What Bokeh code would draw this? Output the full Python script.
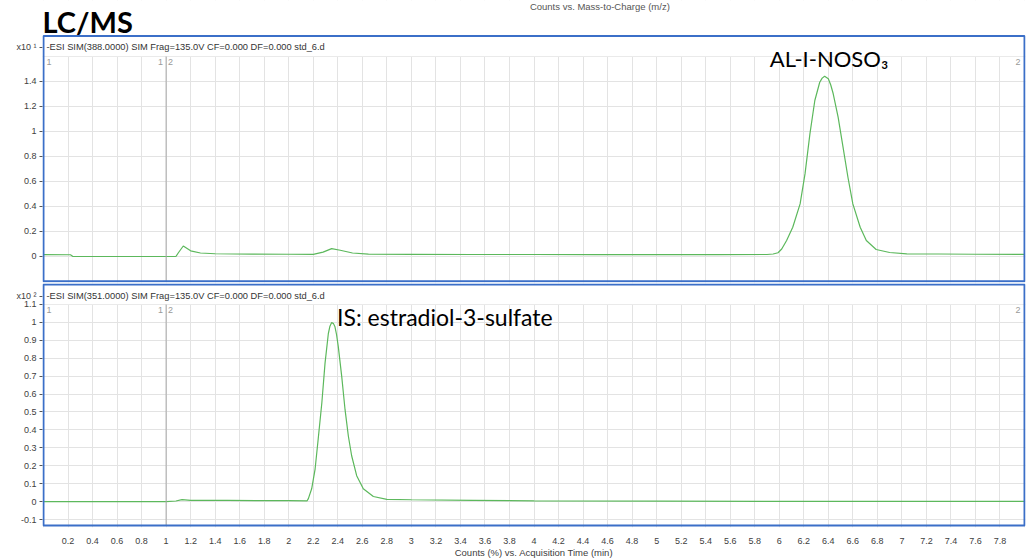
from bokeh.plotting import figure
from bokeh.layouts import column
from bokeh.models import Label, BoxAnnotation, FixedTicker, Range1d, CustomJSTickFormatter
from bokeh.embed import file_html
from bokeh.resources import INLINE

# ---------------- data ----------------
# top trace: SIM 388, counts x10^1
top_time = [0.0, 0.22, 0.24, 1.08, 1.10, 1.14, 1.20, 1.28, 1.40, 1.70, 2.00, 2.20, 2.28,
            2.35, 2.42, 2.52, 2.65, 3.00, 3.50, 4.00, 4.50, 5.00, 5.50, 5.90, 5.95, 5.99, 6.02,
            6.06, 6.11, 6.17, 6.21, 6.25, 6.29, 6.33, 6.35, 6.37, 6.40, 6.42, 6.44, 6.48, 6.52,
            6.56, 6.60, 6.66, 6.71, 6.79, 6.90, 7.04, 7.30, 7.60, 8.00]
top_counts = [0.015, 0.014, 0.0, 0.0, 0.03, 0.084, 0.045, 0.028, 0.022, 0.019, 0.018, 0.017, 0.035,
              0.063, 0.05, 0.028, 0.019, 0.017, 0.016, 0.016, 0.015, 0.015, 0.015, 0.016, 0.02, 0.03,
              0.06, 0.128, 0.234, 0.42, 0.66, 0.98, 1.246, 1.392, 1.425, 1.44, 1.42, 1.37, 1.30,
              1.113, 0.873, 0.633, 0.42, 0.234, 0.128, 0.056, 0.032, 0.021, 0.02, 0.018, 0.017]

# bottom trace: SIM 351, counts x10^2
bottom_time = [0.0, 1.0, 1.08, 1.13, 1.20, 1.50, 2.00, 2.15, 2.16, 2.187, 2.215, 2.24, 2.27,
               2.296, 2.323, 2.336, 2.35, 2.365, 2.377, 2.39, 2.404, 2.432, 2.459, 2.486, 2.513,
               2.554, 2.608, 2.69, 2.80, 3.00, 3.50, 4.00, 5.00, 6.00, 7.00, 8.00]
bottom_counts = [0.0, 0.0, 0.004, 0.012, 0.008, 0.007, 0.006, 0.005, 0.017, 0.072, 0.182, 0.348, 0.551,
                 0.772, 0.937, 0.978, 0.998, 0.992, 0.974, 0.93, 0.864, 0.698, 0.514, 0.366, 0.256,
                 0.145, 0.072, 0.029, 0.013, 0.011, 0.008, 0.005, 0.003, 0.002, 0.002, 0.002]

title_text = "LC/MS"
top_caption = "Counts vs. Mass-to-Charge (m/z)"
top_header = "-ESI SIM(388.0000) SIM Frag=135.0V CF=0.000 DF=0.000 std_6.d"
bottom_header = "-ESI SIM(351.0000) SIM Frag=135.0V CF=0.000 DF=0.000 std_6.d"
top_exponent = "x10 \u00b9"
bottom_exponent = "x10 \u00b2"
top_peak_label = "AL-I-NOSO\u2083"
bottom_peak_label = "IS: estradiol-3-sulfate"
x_axis_label = "Counts (%) vs. Acquisition Time (min)"

top_yticks = [0, 0.2, 0.4, 0.6, 0.8, 1.0, 1.2, 1.4]
top_ygrid = [-0.2, 0, 0.2, 0.4, 0.6, 0.8, 1.0, 1.2, 1.4, 1.6]
bottom_yticks = [-0.1, 0, 0.1, 0.2, 0.3, 0.4, 0.5, 0.6, 0.7, 0.8, 0.9, 1.0, 1.1]
x_ticks = [round(0.2 * i, 1) for i in range(1, 40)]
x_grid = [round(0.2 * i, 1) for i in range(0, 41)]
t_start, t_end = 0.0, 8.0
marker_time = 1.0
marker_labels = ["1", "1", "2", "2"]

SMALL = "Liberation Sans"
BIG = "Lato"
GREEN = "#5cb85c"
BLUE = "#3b6fc8"
GRID = "#e3e3e3"

fmt = CustomJSTickFormatter(code="return (Math.round(tick*10)/10).toString();")
PAD = 0.008  # one pixel of time so the blue box edge is not clipped


def make_panel(time, counts, y0, y1, box_bottom, box_top, grid_top, yticks, ygrid,
               header, exponent, exp_y, height, border_bottom):
    p = figure(width=1027, height=height, x_range=Range1d(t_start - PAD, t_end + PAD),
               y_range=Range1d(y0, y1), output_backend="svg", toolbar_location=None,
               min_border_left=42, min_border_right=2,
               min_border_top=0, min_border_bottom=border_bottom,
               background_fill_color="white", border_fill_color="white")
    p.outline_line_color = None
    p.xgrid.ticker = FixedTicker(ticks=x_grid)
    p.ygrid.ticker = FixedTicker(ticks=ygrid)
    p.xgrid.grid_line_color = GRID
    p.ygrid.grid_line_color = GRID

    ax = p.yaxis[0]
    ax.ticker = FixedTicker(ticks=yticks + [exp_y])
    ax.formatter = CustomJSTickFormatter(
        args=dict(h=exp_y, lab=exponent),
        code="if (Math.abs(tick - h) < 1e-6) { return lab; } "
             "return (Math.round(tick*10)/10).toString();")
    ax.axis_line_color = None
    ax.major_tick_out = 3
    ax.major_tick_in = 0
    ax.major_tick_line_color = "#555555"
    ax.minor_tick_line_color = None
    ax.major_label_standoff = 3
    ax.major_label_text_font = SMALL
    ax.major_label_text_font_size = "9px"
    ax.major_label_text_color = "#404040"

    p.line(time, counts, line_color=GREEN, line_width=1.2)
    p.segment(x0=[marker_time], y0=[box_bottom], x1=[marker_time], y1=[grid_top],
              line_color="#a8a8a8", line_width=1)

    # white header band above the grid, then the blue panel box
    p.add_layout(BoxAnnotation(bottom=grid_top, fill_color="white", fill_alpha=1.0,
                               line_color=None))
    p.add_layout(BoxAnnotation(left=t_start, right=t_end, bottom=box_bottom, top=box_top,
                               fill_color=None, fill_alpha=0.0, line_color=BLUE,
                               line_alpha=1.0, line_width=2))
    # header
    p.add_layout(Label(x=t_start, y=exp_y, x_offset=3, text=header, text_font=SMALL,
                       text_font_size="9.3px", text_color="#333333", text_baseline="middle"))
    # marker labels
    kw = dict(text_font=SMALL, text_font_size="9px", text_color="#9a9a9a", text_baseline="top")
    p.add_layout(Label(x=t_start, y=grid_top, x_offset=3, y_offset=-3, text=marker_labels[0], **kw))
    p.add_layout(Label(x=marker_time, y=grid_top, x_offset=-3, y_offset=-3, text=marker_labels[1],
                       text_align="right", **kw))
    p.add_layout(Label(x=marker_time, y=grid_top, x_offset=2, y_offset=-3, text=marker_labels[2], **kw))
    p.add_layout(Label(x=t_end, y=grid_top, x_offset=-4, y_offset=-3, text=marker_labels[3],
                       text_align="right", **kw))
    return p


# top panel: its frame also holds the "LC/MS" title strip above the blue box
p1 = make_panel(top_time, top_counts, -0.2077, 2.045, -0.198, 1.761, 1.6, top_yticks, top_ygrid,
                top_header, top_exponent, 1.67, 283, 1)
p1.xaxis.visible = False
p1.add_layout(Label(x=t_start, y=1.877, x_offset=-1, text=title_text, text_font=BIG,
                    text_font_style="bold", text_font_size="29px", text_color="black",
                    text_baseline="middle"))
p1.add_layout(Label(x=4.537, y=1.997, text=top_caption, text_font=SMALL, text_font_size="9.5px",
                    text_color="#555555", text_baseline="middle", text_align="center"))
p1.add_layout(Label(x=5.923, y=1.582, text=top_peak_label, text_font=BIG,
                    text_font_size="22px", text_color="black", text_baseline="alphabetic"))

p2 = make_panel(bottom_time, bottom_counts, -0.1436, 1.2155, -0.1326, 1.21, 1.1, bottom_yticks,
                bottom_yticks, bottom_header, bottom_exponent, 1.145, 277, 31)
p2.add_layout(Label(x=2.394, y=1.028, text=bottom_peak_label, text_font=BIG,
                    text_font_size="23px", text_color="black", text_baseline="alphabetic"))
xa = p2.xaxis[0]
xa.ticker = FixedTicker(ticks=x_ticks)
xa.formatter = fmt
xa.axis_line_color = None
xa.major_tick_line_color = None
xa.minor_tick_line_color = None
xa.major_label_standoff = 4
xa.major_label_text_font = SMALL
xa.major_label_text_font_size = "9px"
xa.major_label_text_color = "#404040"
xa.axis_label = x_axis_label
xa.axis_label_text_font = SMALL
xa.axis_label_text_font_size = "9.5px"
xa.axis_label_text_font_style = "normal"
xa.axis_label_text_color = "#404040"
xa.axis_label_standoff = 0

layout = column(p1, p2)
open("out.html", "w").write(file_html(layout, INLINE))
